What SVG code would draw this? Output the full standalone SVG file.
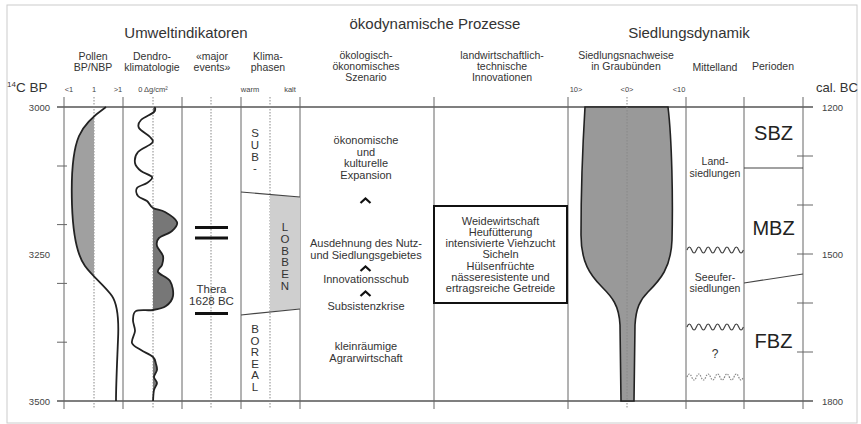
<svg xmlns="http://www.w3.org/2000/svg" width="861" height="424" viewBox="0 0 861 424">
<defs>
<style>
text{font-family:"Liberation Sans",Arial,sans-serif;fill:#333}
.h1{font-size:15px;text-anchor:middle}
.h2{font-size:10.5px;text-anchor:middle}
.sc{font-size:7.5px;text-anchor:middle;fill:#444}
.ax{font-size:9.5px;fill:#444}
.t{font-size:11px;text-anchor:middle}
.v{font-size:11.5px;text-anchor:middle}
.p{font-size:20px;text-anchor:middle;fill:#222}
.col{stroke:#666;stroke-width:1;fill:none}
.dot{stroke:#888;stroke-width:1;stroke-dasharray:1.5 1.5;fill:none}
.hl{stroke:#555;stroke-width:1.3;fill:none}
.cur{stroke:#222;stroke-width:1.8;fill:none}
.car{stroke:#111;stroke-width:2.2;fill:none;stroke-linecap:butt}
.wav{stroke:#444;stroke-width:1.2;fill:none}
</style>
<clipPath id="cpPol"><rect x="64" y="107" width="30" height="294"/></clipPath>
<clipPath id="cpDen"><rect x="153" y="107" width="29" height="294"/></clipPath>
</defs>
<rect x="7" y="5" width="850" height="418" fill="#fff" stroke="#ccc" stroke-width="1"/>

<g id="headers">
<text class="h1" x="186" y="38">Umweltindikatoren</text>
<text class="h1" x="435" y="29">ökodynamische Prozesse</text>
<text class="h1" x="689" y="38">Siedlungsdynamik</text>
<text class="h2" x="93" y="60">Pollen</text>
<text class="h2" x="93" y="71">BP/NBP</text>
<text class="h2" x="152" y="60">Dendro-</text>
<text class="h2" x="152" y="71">klimatologie</text>
<text class="h2" x="212" y="60">«major</text>
<text class="h2" x="212" y="71">events»</text>
<text class="h2" x="268" y="60">Klima-</text>
<text class="h2" x="268" y="71">phasen</text>
<text class="h2" x="366" y="59">ökologisch-</text>
<text class="h2" x="366" y="70">ökonomisches</text>
<text class="h2" x="366" y="81">Szenario</text>
<text class="h2" x="502" y="59">landwirtschaftlich-</text>
<text class="h2" x="502" y="70">technische</text>
<text class="h2" x="502" y="81">Innovationen</text>
<text class="h2" x="626" y="59">Siedlungsnachweise</text>
<text class="h2" x="626" y="70">in Graubünden</text>
<text class="h2" x="715" y="71">Mittelland</text>
<text class="h2" x="773" y="70">Perioden</text>
</g>

<g id="scale-labels">
<text class="sc" x="69" y="92">&lt;1</text>
<text class="sc" x="94" y="92">1</text>
<text class="sc" x="118" y="92">&gt;1</text>
<text class="sc" x="153" y="92">0 Δg/cm²</text>
<text class="sc" x="250" y="92">warm</text>
<text class="sc" x="290" y="92">kalt</text>
<text class="sc" x="576" y="92">10&gt;</text>
<text class="sc" x="627" y="92">&lt;0&gt;</text>
<text class="sc" x="679" y="92">&lt;10</text>
<text x="7" y="92" style="font-size:13.5px">
<tspan style="font-size:8px" dy="-5">14</tspan><tspan dy="5">C BP</tspan></text>
<text x="816" y="92" style="font-size:13px">cal. BC</text>
</g>

<g id="axes">
<line class="hl" x1="57" y1="107" x2="813" y2="107"/>
<line class="hl" x1="57" y1="401" x2="813" y2="401"/>
<g class="col">
<line x1="64" y1="97" x2="64" y2="409"/>
<line x1="123" y1="97" x2="123" y2="409"/>
<line x1="182" y1="97" x2="182" y2="409"/>
<line x1="241" y1="97" x2="241" y2="409"/>
<line x1="300" y1="97" x2="300" y2="409"/>
<line x1="434" y1="97" x2="434" y2="409"/>
<line x1="568" y1="97" x2="568" y2="409"/>
<line x1="686" y1="97" x2="686" y2="409"/>
<line x1="744" y1="97" x2="744" y2="409"/>
<line x1="803" y1="97" x2="803" y2="409"/>
<line x1="57" y1="166" x2="67" y2="166"/>
<line x1="57" y1="224.6" x2="67" y2="224.6"/>
<line x1="57" y1="283.4" x2="67" y2="283.4"/>
<line x1="57" y1="342.2" x2="67" y2="342.2"/>
<line x1="797" y1="156" x2="813" y2="156"/>
<line x1="797" y1="205" x2="813" y2="205"/>
<line x1="797" y1="254" x2="813" y2="254"/>
<line x1="797" y1="303" x2="813" y2="303"/>
<line x1="797" y1="352" x2="813" y2="352"/>
</g>
<g class="dot">
<line x1="94" y1="97" x2="94" y2="409"/>
<line x1="153" y1="97" x2="153" y2="409"/>
<line x1="211" y1="97" x2="211" y2="409"/>
<line x1="270" y1="97" x2="270" y2="409"/>
<line x1="627" y1="97" x2="627" y2="409"/>
</g>
<text class="ax" x="50" y="110.5" text-anchor="end">3000</text>
<text class="ax" x="50" y="257.5" text-anchor="end">3250</text>
<text class="ax" x="50" y="404.5" text-anchor="end">3500</text>
<text class="ax" x="822" y="110.5">1200</text>
<text class="ax" x="822" y="257.5">1500</text>
<text class="ax" x="822" y="404.5">1800</text>
</g>

<g id="pollen">
<path clip-path="url(#cpPol)" fill="#a0a0a0" d="M106,107 C96,114 84,124 79,136 C73,150 71,175 72,205 C73,235 77,255 85,266 C93,277 105,286 112,296 C118,305 119,320 118,340 C117,365 116,385 116,401 L94,401 L94,107 Z"/>
<path class="cur" d="M106,107 C96,114 84,124 79,136 C73,150 71,175 72,205 C73,235 77,255 85,266 C93,277 105,286 112,296 C118,305 119,320 118,340 C117,365 116,385 116,401"/>
</g>

<g id="dendro">
<path clip-path="url(#cpDen)" fill="#777" d="M155,107 C154.8,107.8 156.3,109.8 154,112 C151.7,114.2 143.5,117.3 141,120 C138.5,122.7 137.5,125.2 139,128 C140.5,130.8 147.8,134.5 150,137 C152.2,139.5 154,140.5 152,143 C150,145.5 140.8,148.7 138,152 C135.2,155.3 134.5,159.8 135,163 C135.5,166.2 138.2,168.7 141,171 C143.8,173.3 151,175 152,177 C153,179 149.5,181.2 147,183 C144.5,184.8 138.5,185.8 137,188 C135.5,190.2 136.3,193.8 138,196 C139.7,198.2 144.5,199 147,201 C149.5,203 150,206.2 153,208 C156,209.8 161,209.7 165,212 C169,214.3 175.8,218.8 177,222 C178.2,225.2 175,228.3 172,231 C169,233.7 161.5,235.5 159,238 C156.5,240.5 156.3,243 157,246 C157.7,249 162.2,252.8 163,256 C163.8,259.2 162.8,262.3 162,265 C161.2,267.7 156.7,269.3 158,272 C159.3,274.7 167.5,277 170,281 C172.5,285 173.7,291.8 173,296 C172.3,300.2 169.3,303.7 166,306 C162.7,308.3 158,309.2 153,310 C148,310.8 139.3,309.3 136,311 C132.7,312.7 133.2,316.7 133,320 C132.8,323.3 135.2,327.2 135,331 C134.8,334.8 131,339.8 132,343 C133,346.2 137.5,347.7 141,350 C144.5,352.3 150.5,354.7 153,357 C155.5,359.3 155.3,361.8 156,364 C156.7,366.2 157.3,367.8 157,370 C156.7,372.2 154,374.8 154,377 C154,379.2 157,380.8 157,383 C157,385.2 154.7,387 154,390 C153.3,393 153.2,399.2 153,401 L153,107 Z"/>
<path class="cur" d="M155,107 C154.8,107.8 156.3,109.8 154,112 C151.7,114.2 143.5,117.3 141,120 C138.5,122.7 137.5,125.2 139,128 C140.5,130.8 147.8,134.5 150,137 C152.2,139.5 154,140.5 152,143 C150,145.5 140.8,148.7 138,152 C135.2,155.3 134.5,159.8 135,163 C135.5,166.2 138.2,168.7 141,171 C143.8,173.3 151,175 152,177 C153,179 149.5,181.2 147,183 C144.5,184.8 138.5,185.8 137,188 C135.5,190.2 136.3,193.8 138,196 C139.7,198.2 144.5,199 147,201 C149.5,203 150,206.2 153,208 C156,209.8 161,209.7 165,212 C169,214.3 175.8,218.8 177,222 C178.2,225.2 175,228.3 172,231 C169,233.7 161.5,235.5 159,238 C156.5,240.5 156.3,243 157,246 C157.7,249 162.2,252.8 163,256 C163.8,259.2 162.8,262.3 162,265 C161.2,267.7 156.7,269.3 158,272 C159.3,274.7 167.5,277 170,281 C172.5,285 173.7,291.8 173,296 C172.3,300.2 169.3,303.7 166,306 C162.7,308.3 158,309.2 153,310 C148,310.8 139.3,309.3 136,311 C132.7,312.7 133.2,316.7 133,320 C132.8,323.3 135.2,327.2 135,331 C134.8,334.8 131,339.8 132,343 C133,346.2 137.5,347.7 141,350 C144.5,352.3 150.5,354.7 153,357 C155.5,359.3 155.3,361.8 156,364 C156.7,366.2 157.3,367.8 157,370 C156.7,372.2 154,374.8 154,377 C154,379.2 157,380.8 157,383 C157,385.2 154.7,387 154,390 C153.3,393 153.2,399.2 153,401"/>
</g>

<g id="events">
<rect x="195" y="226" width="33" height="3" fill="#111"/>
<rect x="195" y="236.5" width="33" height="3" fill="#111"/>
<rect x="195" y="312" width="33" height="3" fill="#111"/>
<text x="211.5" y="293" style="font-size:11.5px" text-anchor="middle">Thera</text>
<text x="211.5" y="304.5" style="font-size:11.5px" text-anchor="middle">1628 BC</text>
</g>

<g id="klimaphasen">
<polygon points="270,194.5 300,197 300,309 270,311.5" fill="#cfcfcf"/>
<line x1="241" y1="192" x2="300" y2="197" stroke="#444" stroke-width="1.2"/>
<line x1="241" y1="315" x2="300" y2="309" stroke="#444" stroke-width="1.2"/>
<text class="v" x="255" y="137"><tspan x="255">S</tspan><tspan x="255" dy="12">U</tspan><tspan x="255" dy="12">B</tspan><tspan x="255" dy="11">-</tspan></text>
<text class="v" x="285" y="231"><tspan x="285">L</tspan><tspan x="285" dy="12">O</tspan><tspan x="285" dy="11.5">B</tspan><tspan x="285" dy="11.5">B</tspan><tspan x="285" dy="12">E</tspan><tspan x="285" dy="12">N</tspan></text>
<text class="v" x="255" y="333"><tspan x="255">B</tspan><tspan x="255" dy="11.5">O</tspan><tspan x="255" dy="11.5">R</tspan><tspan x="255" dy="11.5">E</tspan><tspan x="255" dy="11.5">A</tspan><tspan x="255" dy="11.5">L</tspan></text>
</g>

<g id="szenario">
<text class="t" x="366" y="144">ökonomische</text>
<text class="t" x="366" y="155.5">und</text>
<text class="t" x="366" y="167">kulturelle</text>
<text class="t" x="366" y="178.5">Expansion</text>
<polyline class="car" points="360.5,203 365.5,198.5 370.5,203"/>
<text class="t" x="366" y="247">Ausdehnung des Nutz-</text>
<text class="t" x="366" y="258.5">und Siedlungsgebietes</text>
<polyline class="car" points="360.5,271 365.5,266.5 370.5,271"/>
<text class="t" x="366" y="283">Innovationsschub</text>
<polyline class="car" points="360.5,296 365.5,291.5 370.5,296"/>
<text class="t" x="366" y="310">Subsistenzkrise</text>
<text class="t" x="366" y="350">kleinräumige</text>
<text class="t" x="366" y="361.5">Agrarwirtschaft</text>
</g>

<g id="innovationen">
<rect x="434" y="206" width="133" height="97" fill="none" stroke="#111" stroke-width="2"/>
<text class="t" x="500.5" y="224.5">Weidewirtschaft</text>
<text class="t" x="500.5" y="235.8">Heufütterung</text>
<text class="t" x="500.5" y="247.1">intensivierte Viehzucht</text>
<text class="t" x="500.5" y="258.4">Sicheln</text>
<text class="t" x="500.5" y="269.7">Hülsenfrüchte</text>
<text class="t" x="500.5" y="281">nässeresistente und</text>
<text class="t" x="500.5" y="292.3">ertragsreiche Getreide</text>
</g>

<g id="graubuenden">
<path fill="#999" stroke="#222" stroke-width="1.6" d="M585,107 C583,140 581,200 581,235 C581,262 590,275 602,287 C612,297 619,305 620,325 L621,401 L634,401 L635,325 C636,308 640,300 648,292 C660,280 671,268 672,240 C673,200 672,140 668,107 Z"/>
<line class="dot" x1="627" y1="107" x2="627" y2="401"/>
</g>

<g id="mittelland">
<text class="t" x="715" y="165" style="font-size:10.5px">Land-</text>
<text class="t" x="715" y="176.5" style="font-size:10.5px">siedlungen</text>
<path class="wav" d="M687,250 q2.35,-6 4.7,0 t4.7,0 t4.7,0 t4.7,0 t4.7,0 t4.7,0 t4.7,0 t4.7,0 t4.7,0 t4.7,0 t4.7,0 t4.7,0"/>
<text class="t" x="715" y="280.5" style="font-size:10.5px">Seeufer-</text>
<text class="t" x="715" y="292" style="font-size:10.5px">siedlungen</text>
<path class="wav" d="M687,327 q2.35,-6 4.7,0 t4.7,0 t4.7,0 t4.7,0 t4.7,0 t4.7,0 t4.7,0 t4.7,0 t4.7,0 t4.7,0 t4.7,0 t4.7,0"/>
<text class="t" x="715" y="358" style="font-size:12px">?</text>
<path class="wav" stroke-dasharray="1.5 1.2" style="stroke:#888" d="M687,377 q2.35,-6 4.7,0 t4.7,0 t4.7,0 t4.7,0 t4.7,0 t4.7,0 t4.7,0 t4.7,0 t4.7,0 t4.7,0 t4.7,0 t4.7,0"/>
</g>

<g id="perioden">
<line x1="744" y1="168" x2="803" y2="168" stroke="#444" stroke-width="1.2"/>
<line x1="744" y1="283" x2="803" y2="274" stroke="#444" stroke-width="1.2"/>
<text class="p" x="773.5" y="140">SBZ</text>
<text class="p" x="773.5" y="235">MBZ</text>
<text class="p" x="773.5" y="348">FBZ</text>
</g>
</svg>
